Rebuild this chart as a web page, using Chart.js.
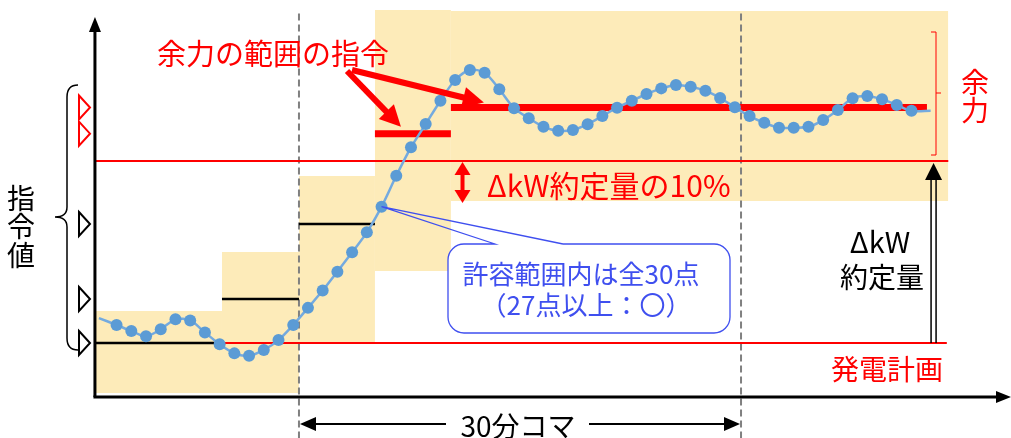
<!DOCTYPE html>
<html>
<head>
<meta charset="utf-8">
<script src="https://cdn.jsdelivr.net/npm/chart.js@4/dist/chart.umd.min.js"></script>
<style>
  body { margin: 0; background: #fff; }
  canvas { display: block; }
</style>
</head>
<body>
<canvas id="c" width="1011" height="438"></canvas>
<script>
// x: minutes (0 = first sample inside the 30-min slot), y: % of ΔkW約定量 above 発電計画
const minutes = [-14.2, -13, -12, -11, -10, -9, -8, -7, -6, -5, -4, -3, -2, -1,
  0, 1, 2, 3, 4, 5, 6, 7, 8, 9, 10, 11, 12, 13, 14, 15, 16, 17, 18, 19,
  20, 21, 22, 23, 24, 25, 26, 27, 28, 29, 30, 31, 32, 33, 34, 35, 36, 37,
  38, 39, 40, 41, 42.3];
const output = [13.7, 9.9, 6.6, 3.7, 7.6, 13.0, 12.4, 5.8, -0.7, -5.7, -7.0, -3.8, 1.6, 9.9,
  19.3, 28.8, 39.2, 49.8, 60.8, 74.9, 91.9, 107.5, 120.3, 133.1, 144.5, 150.0, 148.5, 139.4, 129.0, 123.5, 118.8, 116.6, 117.0, 120.2,
  124.7, 129.3, 133.1, 136.8, 139.9, 141.8, 140.8, 138.6, 134.6, 129.5, 124.7, 121.0, 118.3, 118.3, 118.8, 122.5, 128.0, 134.5,
  135.7, 133.9, 130.8, 127.6, 127.6];

// 指令値 steps
const stepStart = [-14.47, -5.84, -0.61, 4.55, 9.71];
const stepEnd   = [-5.84, -0.61, 4.55, 9.71, 42.05];
const stepLevel = [0, 24.2, 65.4, 115.0, 129.4];
const stepIsReserve = [false, false, false, true, true];

// tolerance bands around each command
const bandStart = [-14.4, -5.84, -0.61, 4.55, 9.71];
const bandEnd   = [-5.84, -0.61, 4.55, 9.71, 43.5];
const bandHigh  = [17.6, 50.0, 91.8, 183.0, 182.4];
const bandLow   = [-27.5, -27.5, 0.5, 39.6, 78.0];

const planLevel = 0, contractLevel = 100;
const planFrom = -5.84, contractFrom = -14.4, refTo = 43.4;
const slotStart = -0.61, slotEnd = 29.42;
const originT = -14.47, originV = -29.7;
const contractArrowT = 42.5;

const RED = '#ff0000', BLUE = '#5b9bd5', YELLOW = '#fdebb9', CALLOUT = '#3f4fef';
const JP = '"Noto Sans CJK JP", "Noto Sans", sans-serif';

const datasets = [];
datasets.push({
  data: minutes.map((m, i) => ({ x: m, y: output[i] })),
  borderColor: '#74aadf', borderWidth: 2.5, tension: 0.3,
  pointRadius: minutes.map((m, i) => (i === 0 || i === minutes.length - 1) ? 0 : 6),
  pointBackgroundColor: BLUE, pointBorderWidth: 0, order: 1
});
stepLevel.forEach((lv, i) => {
  datasets.push({
    data: [{ x: stepStart[i], y: lv }, { x: stepEnd[i], y: lv }],
    borderColor: stepIsReserve[i] ? RED : '#000', borderWidth: stepIsReserve[i] ? 7 : 2.5,
    pointRadius: 0, order: stepIsReserve[i] ? 2 : 3
  });
});
datasets.push({
  data: [{ x: contractFrom, y: contractLevel }, { x: refTo + 0.1, y: contractLevel }],
  borderColor: RED, borderWidth: 2, pointRadius: 0, order: 3
});
datasets.push({
  data: [{ x: planFrom, y: planLevel }, { x: refTo, y: planLevel }],
  borderColor: RED, borderWidth: 2, pointRadius: 0, order: 3
});
[slotStart, slotEnd].forEach(t => {
  datasets.push({
    data: [{ x: t, y: 181 }, { x: t, y: -53 }],
    borderColor: '#808080', borderWidth: 2, borderDash: [7, 4], pointRadius: 0, order: 4
  });
});
bandHigh.forEach((hi, i) => {
  datasets.push({
    data: [{ x: bandStart[i], y: hi }, { x: bandEnd[i], y: hi }],
    borderWidth: 0, borderColor: 'rgba(0,0,0,0)', backgroundColor: YELLOW,
    fill: { value: bandLow[i] }, pointRadius: 0, order: 5
  });
});

function arrowHead(ctx, x1, y1, x2, y2, len, half) {
  const a = Math.atan2(y2 - y1, x2 - x1);
  ctx.beginPath();
  ctx.moveTo(x2, y2);
  ctx.lineTo(x2 - len * Math.cos(a) + half * Math.sin(a), y2 - len * Math.sin(a) - half * Math.cos(a));
  ctx.lineTo(x2 - len * Math.cos(a) - half * Math.sin(a), y2 - len * Math.sin(a) + half * Math.cos(a));
  ctx.closePath();
  ctx.fill();
}
function arrow(ctx, x1, y1, x2, y2, w, len, half, color) {
  const a = Math.atan2(y2 - y1, x2 - x1);
  ctx.strokeStyle = color; ctx.fillStyle = color; ctx.lineWidth = w;
  ctx.beginPath(); ctx.moveTo(x1, y1);
  ctx.lineTo(x2 - len * 0.8 * Math.cos(a), y2 - len * 0.8 * Math.sin(a)); ctx.stroke();
  arrowHead(ctx, x1, y1, x2, y2, len, half);
}
function text(ctx, s, x, y, size, color, align) {
  ctx.font = size + 'px ' + JP;
  ctx.fillStyle = color; ctx.textAlign = align || 'center'; ctx.textBaseline = 'middle';
  ctx.fillText(s, x, y);
}

const annotate = {
  id: 'annotate',
  afterDatasetsDraw(chart) {
    const ctx = chart.ctx;
    const X = v => chart.scales.x.getPixelForValue(v);
    const Y = v => chart.scales.y.getPixelForValue(v);
    ctx.save();
    ctx.lineCap = 'butt';

    // axes
    const ox = X(originT), oy = Y(originV);
    ctx.strokeStyle = '#000'; ctx.fillStyle = '#000'; ctx.lineWidth = 3;
    ctx.beginPath(); ctx.moveTo(ox, oy); ctx.lineTo(ox, 30); ctx.stroke();
    arrowHead(ctx, ox, 100, ox, 17, 15, 6);
    ctx.beginPath(); ctx.moveTo(ox - 1.5, oy); ctx.lineTo(998, oy); ctx.stroke();
    arrowHead(ctx, 900, oy, 1011, oy, 15, 6);

    // 指令値 markers
    stepLevel.forEach((lv, i) => {
      const y = Y(lv);
      ctx.strokeStyle = stepIsReserve[i] ? RED : '#000'; ctx.lineWidth = 2;
      ctx.beginPath(); ctx.moveTo(79, y - 12); ctx.lineTo(90, y); ctx.lineTo(79, y + 12); ctx.closePath(); ctx.stroke();
    });

    // brace
    const top = 85, bot = 350, mid = 217;
    ctx.strokeStyle = '#000'; ctx.lineWidth = 1.5;
    ctx.beginPath();
    ctx.moveTo(78, top); ctx.quadraticCurveTo(67, top, 67, top + 12);
    ctx.lineTo(67, mid - 10); ctx.quadraticCurveTo(67, mid, 55, mid);
    ctx.quadraticCurveTo(67, mid, 67, mid + 10);
    ctx.lineTo(67, bot - 12); ctx.quadraticCurveTo(67, bot, 78, bot);
    ctx.stroke();
    ['指', '令', '値'].forEach((c, i) => text(ctx, c, 21, 198 + i * 28.5, 28, '#000'));

    // 余力の範囲の指令
    text(ctx, '余力の範囲の指令', 157, 54, 29, RED, 'left');
    arrow(ctx, 347, 71, X(stepStart[3]) + 26, Y(stepLevel[3]) - 7, 6, 21, 10.5, RED);
    arrow(ctx, 352, 70, X(stepStart[4]) + 33, Y(stepLevel[4]) - 5, 6, 21, 10.5, RED);

    // ΔkW約定量の10%
    const ax = X(10.5), ay1 = Y(contractLevel) + 1, ay2 = Y(bandLow[4]) + 2;
    ctx.strokeStyle = RED; ctx.fillStyle = RED; ctx.lineWidth = 4;
    ctx.beginPath(); ctx.moveTo(ax, ay1 + 10); ctx.lineTo(ax, ay2 - 10); ctx.stroke();
    arrowHead(ctx, ax, ay2, ax, ay1, 13, 8);
    arrowHead(ctx, ax, ay1, ax, ay2, 13, 8);
    text(ctx, 'ΔkW約定量の10%', 487, 186, 30, RED, 'left');

    // 余力 bracket
    ctx.strokeStyle = RED; ctx.lineWidth = 1;
    ctx.beginPath();
    ctx.moveTo(931, 32); ctx.lineTo(936, 32); ctx.lineTo(936, 155); ctx.lineTo(931, 155);
    ctx.moveTo(936, 93); ctx.lineTo(941, 93);
    ctx.stroke();
    text(ctx, '余', 975, 82, 28, RED);
    text(ctx, '力', 975, 110, 28, RED);

    // ΔkW約定量 arrow
    const cx = X(contractArrowT), cy0 = Y(planLevel), cy1 = Y(contractLevel) + 2;
    ctx.strokeStyle = '#000'; ctx.fillStyle = '#000'; ctx.lineWidth = 1.5;
    ctx.beginPath();
    ctx.moveTo(cx - 2.5, cy0); ctx.lineTo(cx - 2.5, cy1 + 14);
    ctx.moveTo(cx + 2.5, cy0); ctx.lineTo(cx + 2.5, cy1 + 14);
    ctx.stroke();
    arrowHead(ctx, cx, cy0, cx, cy1, 17, 8.5);
    text(ctx, 'ΔkW', 880, 242, 29, '#000');
    text(ctx, '約定量', 882, 277, 28, '#000');
    text(ctx, '発電計画', 887, 369, 28, RED);

    // 30分コマ
    const by = 424, sx = X(slotStart), ex = X(slotEnd);
    ctx.strokeStyle = '#000'; ctx.fillStyle = '#000'; ctx.lineWidth = 2;
    ctx.beginPath(); ctx.moveTo(sx + 10, by); ctx.lineTo(446, by);
    ctx.moveTo(589, by); ctx.lineTo(ex - 10, by); ctx.stroke();
    arrowHead(ctx, 446, by, sx + 1, by, 16, 7);
    arrowHead(ctx, 589, by, ex - 1, by, 16, 7);
    text(ctx, '30分コマ', 518, 426, 28, '#000');

    // callout
    const px = X(minutes[19]), py = Y(output[19]);
    const bx0 = 448, bx1 = 730, by0 = 244, by1 = 333, r = 16;
    ctx.fillStyle = '#fff';
    ctx.beginPath();
    ctx.moveTo(bx0 + r, by0); ctx.lineTo(bx1 - r, by0); ctx.arcTo(bx1, by0, bx1, by0 + r, r);
    ctx.lineTo(bx1, by1 - r); ctx.arcTo(bx1, by1, bx1 - r, by1, r);
    ctx.lineTo(bx0 + r, by1); ctx.arcTo(bx0, by1, bx0, by1 - r, r);
    ctx.lineTo(bx0, by0 + r); ctx.arcTo(bx0, by0, bx0 + r, by0, r);
    ctx.fill();
    ctx.strokeStyle = CALLOUT; ctx.lineWidth = 1.3;
    ctx.beginPath();
    ctx.moveTo(563, by0); ctx.lineTo(bx1 - r, by0); ctx.arcTo(bx1, by0, bx1, by0 + r, r);
    ctx.lineTo(bx1, by1 - r); ctx.arcTo(bx1, by1, bx1 - r, by1, r);
    ctx.lineTo(bx0 + r, by1); ctx.arcTo(bx0, by1, bx0, by1 - r, r);
    ctx.lineTo(bx0, by0 + r); ctx.arcTo(bx0, by0, bx0 + r, by0, r);
    ctx.lineTo(495, by0); ctx.lineTo(px, py); ctx.lineTo(563, by0);
    ctx.stroke();
    text(ctx, '許容範囲内は全30点', 581, 274, 26, CALLOUT);
    text(ctx, '（27点以上：〇）', 586, 305, 26, CALLOUT);

    ctx.restore();
  }
};

new Chart(document.getElementById('c'), {
  type: 'line',
  data: { datasets },
  options: {
    responsive: false,
    animation: false,
    parsing: true,
    layout: { padding: 0 },
    plugins: { legend: { display: false }, tooltip: { enabled: false } },
    scales: {
      x: { type: 'linear', display: false, min: -20.92, max: 47.76 },
      y: { type: 'linear', display: false, min: -52.2, max: 188.46 }
    }
  },
  plugins: [annotate]
});
</script>
</body>
</html>
